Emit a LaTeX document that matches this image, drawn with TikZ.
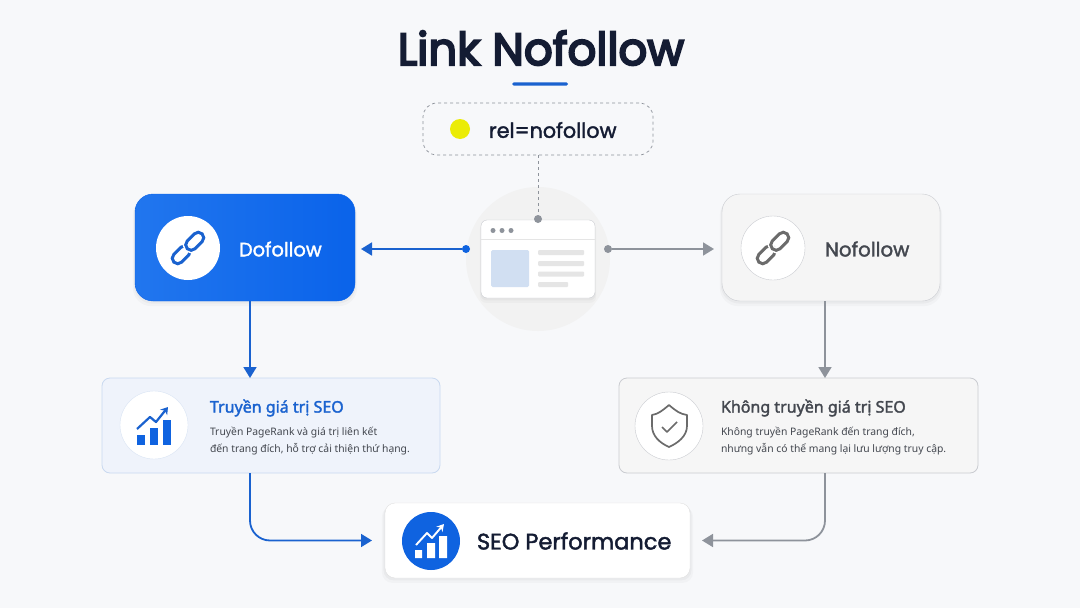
\documentclass[tikz,border=0pt]{standalone}
\usepackage{fontspec}
\setmainfont{Noto Sans}
\newfontfamily\medfont{Noto Sans}[FakeBold=2]
\newfontfamily\headfont{Poppins}[FakeBold=1.8]
\newfontfamily\titlefont{Poppins}[FakeBold=4.5]
\usetikzlibrary{arrows.meta,shadows}
\definecolor{bgcol}{HTML}{F7F8FA}
\definecolor{inkcol}{HTML}{141C33}
\definecolor{bluecol}{HTML}{0F63E0}
\definecolor{lineblue}{HTML}{1A62CF}
\definecolor{greycol}{HTML}{8E939B}
\definecolor{darkgrey}{HTML}{43474F}
\definecolor{edgegrey}{HTML}{CACCD1}
\definecolor{paleblue}{HTML}{EFF3FB}
\definecolor{edgeblue}{HTML}{C9D9F0}
\definecolor{boxleft}{HTML}{2176EE}
\definecolor{boxright}{HTML}{0A63EA}

\begin{document}
\begin{tikzpicture}[x=1pt,y=-1pt,
		every node/.style={inner sep=0pt,outer sep=0pt},
		soft shadow/.style={general shadow={fill=black,opacity=.03,shadow yshift=-2pt,shadow scale=1.01},general shadow={fill=black,opacity=.025,shadow yshift=-4pt,shadow scale=1.02}},
		main box/.style={draw,rounded corners=18pt,minimum height=107pt,soft shadow},
		info box/.style={draw,rounded corners=8pt,minimum height=95pt,line width=.8pt},
		icon circle/.style={circle,fill=white,minimum size=#1},
		link dot/.style={circle,minimum size=8pt},
		blue line/.style={draw=lineblue,line width=1.8pt,-{Triangle[length=11pt,width=13pt]}},
		grey line/.style={draw=greycol,line width=1.8pt,-{Triangle[length=11pt,width=13pt]}},
		info title/.style={anchor=west,font=\fontsize{16}{18}\selectfont\medfont},
		info text/.style={anchor=west,align=left,font=\fontsize{10.35}{17}\selectfont},
		linkpic/.pic={
			\draw[line width=3pt,pic actions,rotate=45,rounded corners=5.5pt] (-20,-5.5) rectangle (1,5.5);
			\draw[line width=6pt,white,rotate=45,rounded corners=5.5pt] (-1,-5.5) rectangle (20,5.5);
			\draw[line width=3pt,pic actions,rotate=45,rounded corners=5.5pt] (-1,-5.5) rectangle (20,5.5);
		},
		barspic/.pic={
			\fill[pic actions] (-17.5,10) rectangle (-9.5,20);
			\fill[pic actions] (-4.5,3) rectangle (3.5,20);
			\fill[pic actions] (8.5,-5) rectangle (16.5,20);
		}]

	\useasboundingbox[fill=bgcol] (0,0) rectangle (1080,608);

	\node[font=\fontsize{45}{50}\selectfont\titlefont,text=inkcol] (title) at (541,48) {Link Nofollow};
	\fill[lineblue,rounded corners=1.7pt] (512,82.3) rectangle (568,85.7);

	\node[draw=greycol,dashed,line width=.7pt,fill=bgcol,rounded corners=14pt,minimum width=230pt,minimum height=52pt] (rel) at (538,129) {};
	\node[circle,fill=yellow!92!green,minimum size=20pt] (reldot) at (460,129) {};
	\node[font=\fontsize{20.7}{25}\selectfont\headfont,text=inkcol,anchor=west] (reltext) at (489,130) {rel=nofollow};

	\fill[black!5] (538,259) circle (72);
	\node[draw=edgegrey,fill=white,rounded corners=6pt,minimum width=114pt,minimum height=78pt,soft shadow] (page) at (538,259) {};
	\draw[black!10,line width=.7pt] (481,239) -- (595,239);
	\foreach \x in {493,502,511}
		\fill[greycol] (\x,230.5) circle (2.5);
	\fill[edgeblue!85!white,rounded corners=1.5pt] (491,250) rectangle (529,287);
	\foreach \y/\w in {250/584,261/584,271.5/584,282/568}
		\fill[black!10,rounded corners=1pt] (538,\y) rectangle (\w,\y+5);

	\node[link dot,fill=greycol] (topdot) at (538,219) {};
	\node[link dot,fill=bluecol] (ldot) at (466,249) {};
	\node[link dot,fill=greycol] (rdot) at (608,249) {};

	\node[main box,draw=boxright,left color=boxleft,right color=boxright,minimum width=220pt] (do) at (245,247.5) {};
	\node[icon circle=64pt] (docirc) at (188,248) {};
	\pic[draw=lineblue] at (docirc) {linkpic};
	\node[font=\fontsize{19.4}{24}\selectfont\headfont,text=white,anchor=west] (dotext) at (239,249) {Dofollow};

	\node[main box,draw=edgegrey,fill=black!4,minimum width=218pt] (no) at (831,247.5) {};
	\node[icon circle=64pt,draw=edgegrey] (nocirc) at (773,248) {};
	\pic[draw=black!58] at (nocirc) {linkpic};
	\node[font=\fontsize{19.8}{24}\selectfont\headfont,text=darkgrey,anchor=west] (notext) at (825,249) {Nofollow};

	\node[info box,draw=edgeblue,fill=paleblue,minimum width=338pt] (yes) at (271,425.5) {};
	\node[icon circle=68pt,draw=edgeblue!70!white] (yescirc) at (154,425) {};
	\pic[fill=bluecol] at (yescirc) {barspic};
	\node[info title,text=lineblue] (yestitle) at (210,408) {Truyền giá trị SEO};
	\node[info text,text=darkgrey] (yestext) at (210,441.5) {Truyền PageRank và giá trị liên kết\\đến trang đích, hỗ trợ cải thiện thứ hạng.};
	\draw[lineblue,line width=2.2pt,-{Stealth[length=7pt,width=9pt]},line join=round] (137,429) -- (150,417) -- (156,422) -- (168,407);

	\node[info box,draw=edgegrey,fill=black!3.5,minimum width=359pt] (nope) at (798.5,425.5) {};
	\node[icon circle=68pt,draw=edgegrey] (nopecirc) at (669,426) {};
	\draw[black!58,line width=1.7pt,line join=round] (669,405) .. controls (662,411) and (658,414) .. (652,415) -- (652,426) .. controls (652,436) and (660,443) .. (669,447) .. controls (678,443) and (687,436) .. (687,426) -- (687,415) .. controls (680,414) and (676,411) .. (669,405) -- cycle;
	\draw[black!58,line width=1.7pt,line join=round] (662,427) -- (667,432) -- (677,422);
	\node[info title,text=darkgrey] (nopetitle) at (721,408) {Không truyền giá trị SEO};
	\node[info text,text=darkgrey] (nopetext) at (721,441.5) {Không truyền PageRank đến trang đích,\\nhưng vẫn có thể mang lại lưu lượng truy cập.};

	\node[draw=black!12,fill=white,rounded corners=10pt,minimum width=305pt,minimum height=75pt,soft shadow] (perf) at (537.5,540.5) {};
	\node[icon circle=58pt,fill=bluecol] (perfcirc) at (431,541) {};
	\fill[white] (415,550) rectangle (422,558) (427,543) rectangle (435,558) (439,536) rectangle (447,558);
	\draw[white,line width=1.9pt,-{Stealth[length=7pt,width=8pt]},line join=round] (416,545) -- (427,533) -- (432,538) -- (444,524);
	\node[font=\fontsize{22.5}{28}\selectfont\headfont,text=inkcol,anchor=west] (perftext) at (477,541) {SEO Performance};

	\draw[draw=greycol,dashed,line width=.7pt] (rel.south) -- (topdot);
	\path[blue line,shorten >=6pt] (ldot) -- (ldot -| do.east);
	\path[grey line,shorten >=8pt] (rdot) -- (rdot -| no.west);
	\path[blue line] ([xshift=5pt]do.south) -- (250,378);
	\path[grey line] ([xshift=-6pt]no.south) -- (825,378);
	\path[blue line,shorten >=13pt,rounded corners=20pt] (250,473) |- (perf.west);
	\path[grey line,shorten >=12pt,rounded corners=20pt] (825,473) |- (perf.east);
\end{tikzpicture}
\end{document}
